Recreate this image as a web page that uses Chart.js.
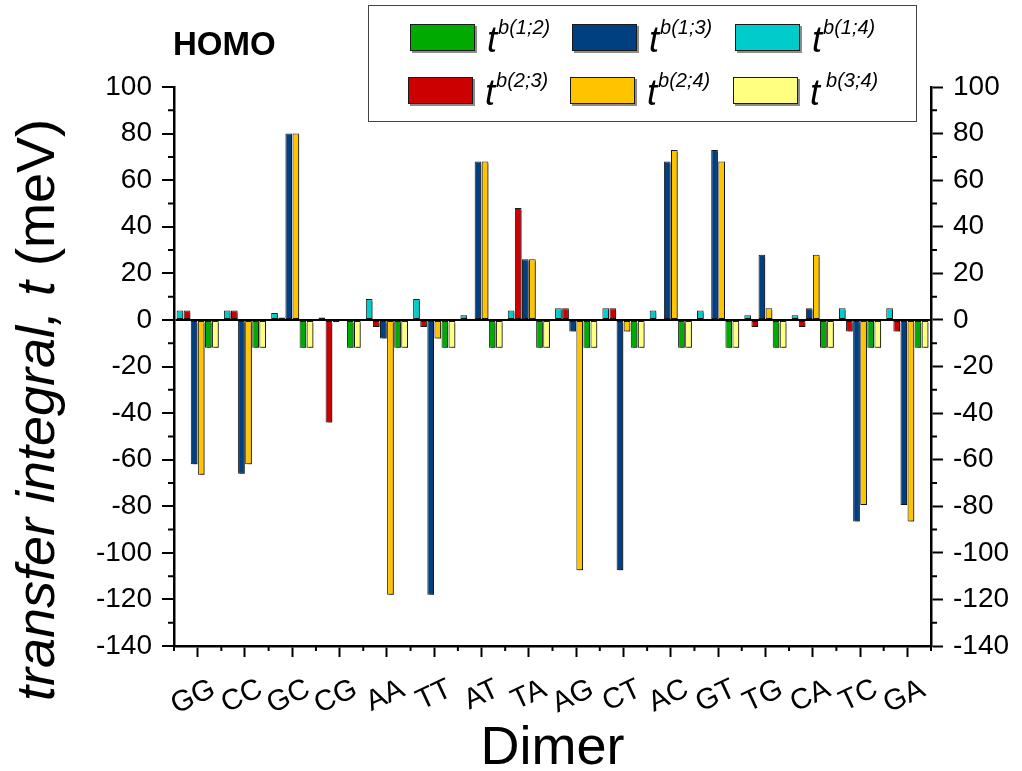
<!DOCTYPE html>
<html>
<head>
<meta charset="utf-8">
<script src="https://cdn.jsdelivr.net/npm/chart.js@4.4.0/dist/chart.umd.min.js"></script>
<style>
  html, body { margin: 0; padding: 0; background: #fff; }
</style>
</head>
<body>
<canvas id="chart" width="1022" height="771"></canvas>
<script>
// dimers along the x axis
var dimers = ['GG', 'CC', 'GC', 'CG', 'AA', 'TT', 'AT', 'TA', 'AG', 'CT', 'AC', 'GT', 'TG', 'CA', 'TC', 'GA'];

// transfer integrals t^b(i;j), meV
var t12 = [-12, -12, -12, -12, -12, -12, -12, -12, -12, -12, -12, -12, -12, -12, -12, -12];
var t13 = [-62, -66, 80, -1, -8, -118, 68, 26, -5, -107.5, 68, 73, 28, 5, -86.5, -79.5];
var t14 = [4, 4, 3, 1, 9, 9, 2, 4, 5, 5, 4, 4, 2, 2, 5, 5];
var t23 = [4, 4, 1, -44, -3, -3, 0.5, 48, 5, 5, 0.5, 0.5, -3, -3, -5, -5];
var t24 = [-66.5, -62, 80, -0.5, -118, -8, 68, 26, -107.5, -5, 73, 68, 5, 28, -79.5, -86.5];
var t34 = [-12, -12, -12, -12, -12, -12, -12, -12, -12, -12, -12, -12, -12, -12, -12, -12];

var yTicks = [-140, -120, -100, -80, -60, -40, -20, 0, 20, 40, 60, 80, 100];

var FONT = "'Liberation Sans', Arial, sans-serif";

function bars(label, data, color) {
    return {
        label: label,
        data: data,
        backgroundColor: color,
        borderColor: '#1a1a1a',
        borderWidth: 1,
        borderSkipped: false,
        categoryPercentage: 0.9,
        barPercentage: 0.94
    };
}

// order inside a group as in the original: 1;4, 2;3, 1;3, 2;4, 1;2, 3;4
var datasets = [
    bars('b(1;4)', t14, '#00CCCC'),
    bars('b(2;3)', t23, '#CC0000'),
    bars('b(1;3)', t13, '#003F80'),
    bars('b(2;4)', t24, '#FFC400'),
    bars('b(1;2)', t12, '#00AA00'),
    bars('b(3;4)', t34, '#FFFF80')
];
var legendOrder = [4, 2, 0, 1, 3, 5];

var shadowPlugin = {
    id: 'shadow',
    beforeDatasetsDraw: function (chart) {
        var ctx = chart.ctx;
        ctx.save();
        ctx.shadowColor = 'rgba(0,0,0,0.45)';
        ctx.shadowOffsetX = 2;
        ctx.shadowOffsetY = 2;
        ctx.shadowBlur = 0;
    },
    afterDatasetsDraw: function (chart) {
        chart.ctx.restore();
    }
};

var extrasPlugin = {
    id: 'extras',
    afterDraw: function (chart) {
        var ctx = chart.ctx;
        var area = chart.chartArea;
        var x = chart.scales.x, y = chart.scales.y;
        ctx.save();

        // minor ticks
        ctx.strokeStyle = '#000';
        ctx.lineWidth = 2;
        ctx.beginPath();
        for (var v = -130; v < 100; v += 20) {
            var py = y.getPixelForValue(v);
            ctx.moveTo(area.left - 6, py); ctx.lineTo(area.left, py);
            ctx.moveTo(area.right, py); ctx.lineTo(area.right + 6, py);
        }
        for (var i = 0; i <= dimers.length; i++) {
            var px = x.getPixelForValue(i - 0.5);
            ctx.moveTo(px, area.bottom); ctx.lineTo(px, area.bottom + 5);
        }
        ctx.stroke();

        // title
        ctx.fillStyle = '#000';
        ctx.font = 'bold 33px ' + FONT;
        ctx.textBaseline = 'alphabetic';
        ctx.textAlign = 'left';
        ctx.fillText('HOMO', 173, 55);

        // x axis title
        ctx.font = '54px ' + FONT;
        ctx.textAlign = 'center';
        ctx.fillText('Dimer', (area.left + area.right) / 2, 764);

        // y axis title, mixed italic / upright
        ctx.save();
        ctx.translate(54, 410);
        ctx.rotate(-Math.PI / 2);
        var a = 'transfer integral, t', b = ' (meV)';
        ctx.font = 'italic 54px ' + FONT;
        var wa = ctx.measureText(a).width;
        ctx.font = '54px ' + FONT;
        var wb = ctx.measureText(b).width;
        ctx.textAlign = 'left';
        ctx.font = 'italic 54px ' + FONT;
        ctx.fillText(a, -(wa + wb) / 2, 0);
        ctx.font = '54px ' + FONT;
        ctx.fillText(b, -(wa + wb) / 2 + wa, 0);
        ctx.restore();

        // legend box
        ctx.strokeStyle = '#444';
        ctx.lineWidth = 1;
        ctx.strokeRect(368.5, 5.5, 548, 116);
        var cols = [410, 572, 735], rows = [24, 77];
        legendOrder.forEach(function (di, k) {
            var ds = chart.data.datasets[di];
            var sx = cols[k % 3] - (k >= 3 ? 2 : 0), sy = rows[Math.floor(k / 3)];
            ctx.save();
            ctx.shadowColor = 'rgba(0,0,0,0.45)';
            ctx.shadowOffsetX = 2;
            ctx.shadowOffsetY = 2;
            ctx.fillStyle = ds.backgroundColor;
            ctx.fillRect(sx, sy, 65, 27);
            ctx.restore();
            ctx.strokeStyle = '#1a1a1a';
            ctx.strokeRect(sx + 0.5, sy + 0.5, 64, 26);
            ctx.fillStyle = '#000';
            ctx.textAlign = 'left';
            ctx.font = 'italic 36px ' + FONT;
            var tx = sx + 77;
            ctx.fillText('t', tx, sy + 28);
            var tw = ctx.measureText('t').width;
            ctx.font = 'italic 20px ' + FONT;
            ctx.fillText(ds.label, tx + tw + (k === 5 ? 6 : 1), sy + 10);
        });

        ctx.restore();
    }
};

new Chart(document.getElementById('chart'), {
    type: 'bar',
    data: { labels: dimers, datasets: datasets },
    plugins: [shadowPlugin, extrasPlugin],
    options: {
        responsive: false,
        animation: false,
        layout: { padding: { top: 87, left: 0, right: 0, bottom: 0 } },
        plugins: {
            legend: { display: false },
            tooltip: { enabled: false }
        },
        scales: {
            x: {
                type: 'category',
                offset: true,
                afterFit: function (s) { s.height = 771 - 646; },
                border: { color: '#000', width: 2.5 },
                grid: { offset: false, drawOnChartArea: false, tickLength: 11, tickWidth: 2, tickColor: '#000' },
                ticks: {
                    color: '#000',
                    font: { family: FONT, size: 29 },
                    autoSkip: false,
                    maxRotation: 25,
                    minRotation: 25,
                    labelOffset: 16,
                    padding: 15
                }
            },
            y: {
                position: 'left',
                min: -140,
                max: 100,
                afterFit: function (s) { s.width = 174; },
                afterBuildTicks: function (s) { s.ticks = yTicks.map(function (v) { return { value: v }; }); },
                border: { color: '#000', width: 2.5 },
                grid: {
                    drawOnChartArea: true,
                    tickLength: 12,
                    tickWidth: 2,
                    tickColor: '#000',
                    color: function (c) { return c.tick && c.tick.value === 0 ? '#000' : 'rgba(0,0,0,0)'; },
                    lineWidth: 2
                },
                ticks: { color: '#000', font: { family: FONT, size: 28 }, padding: 10 }
            },
            y2: {
                position: 'right',
                min: -140,
                max: 100,
                afterFit: function (s) { s.width = 1022 - 931; },
                afterBuildTicks: function (s) { s.ticks = yTicks.map(function (v) { return { value: v }; }); },
                border: { color: '#000', width: 2.5 },
                grid: { drawOnChartArea: false, tickLength: 12, tickWidth: 2, tickColor: '#000' },
                ticks: { color: '#000', font: { family: FONT, size: 28 }, padding: 10 }
            }
        }
    }
});
</script>
</body>
</html>
